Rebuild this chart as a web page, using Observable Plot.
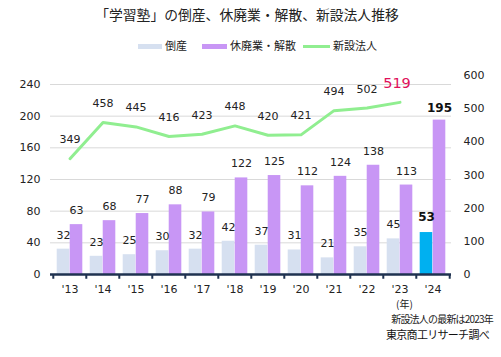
<!DOCTYPE html>
<html><head><meta charset="utf-8">
<script src="https://cdn.jsdelivr.net/npm/d3@7"></script>
<script src="https://cdn.jsdelivr.net/npm/@observablehq/plot@0.6"></script>
<style>
body{margin:0;background:#fff;font-family:"Noto Sans CJK JP",sans-serif;}
#wrap{position:relative;width:501px;height:357px;background:#fff;overflow:hidden}
#wrap svg{position:absolute;left:0;top:0}
.t{position:absolute;white-space:nowrap;color:#222;line-height:1}
.sw{position:absolute;height:5px}
</style></head><body><div id="wrap">
<div class="t" id="title" style="left:0;width:494px;text-align:center;top:8px;font-size:13.8px">「学習塾」の倒産、休廃業・解散、新設法人推移</div>
<div class="sw" style="left:138px;top:44px;width:24px;background:#d6e0f0"></div>
<div class="t" style="left:165px;top:40px;font-size:11px">倒産</div>
<div class="sw" style="left:202px;top:44px;width:25px;background:#c896f5"></div>
<div class="t" style="left:230px;top:40px;font-size:11px">休廃業・解散</div>
<div class="sw" style="left:303px;top:45px;width:27px;height:3px;background:#90ee90"></div>
<div class="t" style="left:333px;top:40px;font-size:11px">新設法人</div>
<div class="t" style="left:396px;top:299px;font-size:10px">(年)</div>
<div class="t" style="right:8px;top:314px;font-size:10px;letter-spacing:-0.8px">新設法人の最新は2023年</div>
<div class="t" style="left:386px;top:329px;font-size:11px;letter-spacing:-0.7px;color:#111">東京商工リサーチ調べ</div>
</div>
<script>
const years = ["'13","'14","'15","'16","'17","'18","'19","'20","'21","'22","'23","'24"];
const tosan = [32,23,25,30,32,42,37,31,21,35,45,53];
const kyuhai = [63,68,77,88,79,122,125,112,124,138,113,195];
const shinsetsu = [349,458,445,416,423,448,420,421,494,502,519];
const leftTicks = [0,40,80,120,160,200,240];
const rightTicks = [0,100,200,300,400,500,600];

// right axis (0-600) mapped onto left units (0-240)
const k = (199/600)*(240/190);

const bars = years.map((y,i)=>({year:y, tosan:tosan[i], kyuhai:kyuhai[i], latest: i===years.length-1}));
const line = shinsetsu.map((v,i)=>({year:years[i], v, last: i===shinsetsu.length-1}));

const numFont = "DejaVu Sans, Verdana, sans-serif";
const bw = 401/12;
const off = bw/2 - 3.7 - 6.5;

const chart = Plot.plot({
  width:501, height:357,
  marginTop:84, marginBottom:83, marginLeft:50, marginRight:50,
  style:{fontFamily:numFont, fontSize:"11px", color:"#222", background:"transparent"},
  x:{type:"band", domain:years, padding:0, axis:null},
  y:{domain:[0,240], axis:null},
  color:{type:"identity"},
  marks:[
    Plot.ruleY(leftTicks.slice(1), {stroke:"#d9d9d9", strokeWidth:1}),
    Plot.barY(bars, {x:"year", y:"tosan", fill:d=>d.latest?"#00b0f0":"#d6e0f0", insetLeft:3.7, insetRight:bw-3.7-13}),
    Plot.barY(bars, {x:"year", y:"kyuhai", fill:"#c896f5", insetLeft:bw-3.7-13, insetRight:3.7}),
    Plot.ruleY([0], {stroke:"#1f3250", strokeWidth:2.5}),
    Plot.ruleX(years, {x:d=>d, dx:-bw/2, y1:0, y2:-6, stroke:"#1f3250", strokeWidth:2}),
    Plot.ruleX(years.slice(-1), {x:d=>d, dx:bw/2, y1:0, y2:-6, stroke:"#1f3250", strokeWidth:2}),
    Plot.line(line, {x:"year", y:d=>d.v*k, stroke:"#90ee90", strokeWidth:3}),
    Plot.text(line.filter(d=>!d.last), {x:"year", y:d=>d.v*k, text:d=>String(d.v), dy:-19, fill:"#222", fontSize:11}),
    Plot.text(line.filter(d=>d.last), {x:"year", y:d=>d.v*k, text:d=>String(d.v), dy:-19, dx:-3, fill:"#e0105a", fontSize:14.5}),
    Plot.text(bars.filter(d=>!d.latest), {x:"year", y:"tosan", text:d=>String(d.tosan), dx:-off, dy:-14, fill:"#222", fontSize:11}),
    Plot.text(bars.filter(d=>d.latest), {x:"year", y:"tosan", text:d=>String(d.tosan), dx:-off, dy:-15, fill:"#111", fontSize:12, fontWeight:"bold"}),
    Plot.text(bars.filter(d=>!d.latest), {x:"year", y:"kyuhai", text:d=>String(d.kyuhai), dx:off, dy:-14, fill:"#222", fontSize:11}),
    Plot.text(bars.filter(d=>d.latest), {x:"year", y:"kyuhai", text:d=>String(d.kyuhai), dx:off, dy:-12, fill:"#111", fontSize:12, fontWeight:"bold"}),
    Plot.axisY(leftTicks, {anchor:"left", tickSize:0, tickPadding:10, fill:"#222", fontSize:11, label:null}),
    Plot.axisY(rightTicks.map(v=>v*k), {anchor:"right", tickSize:0, tickPadding:12, tickFormat:d=>String(Math.round(d/k)), fill:"#222", fontSize:11, label:null}),
    Plot.axisX(years, {anchor:"bottom", tickSize:0, tickPadding:11, fill:"#222", fontSize:11, label:null})
  ]
});
document.getElementById("wrap").prepend(chart);
</script></body></html>
